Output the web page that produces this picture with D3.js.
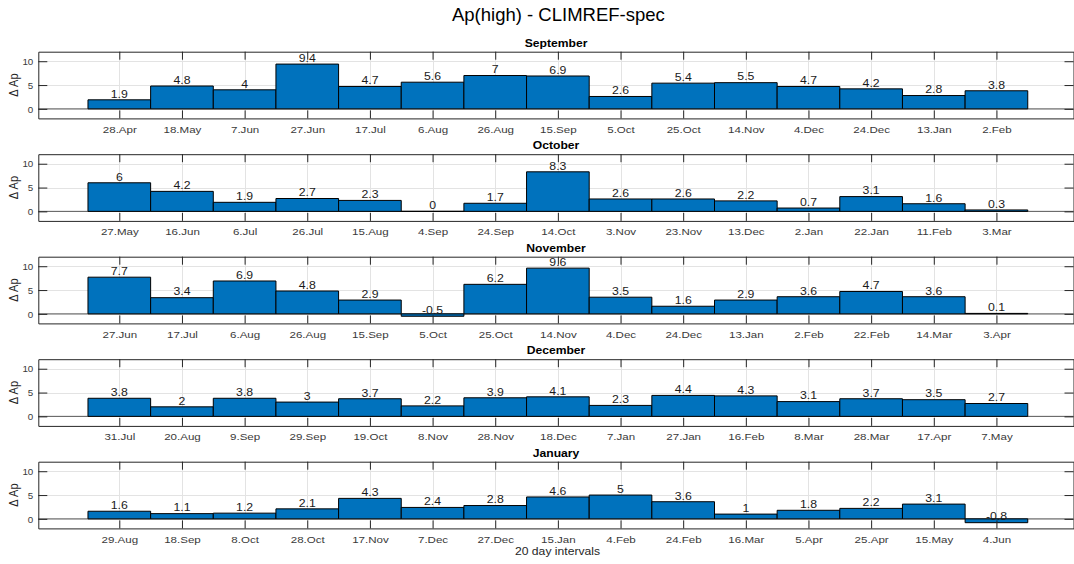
<!DOCTYPE html>
<html>
<head>
<meta charset="utf-8">
<script src="https://cdn.jsdelivr.net/npm/d3@7"></script>
<style>
  html, body { margin: 0; padding: 0; background: #fff; }
  svg { display: block; font-family: "Liberation Sans", Arial, Helvetica, sans-serif; }
</style>
</head>
<body>
<script>
// Monthly panels: label of each 20-day interval and the Ap change in it
const panelTitles = ["September", "October", "November", "December", "January"];

const sepTicks = ["28.Apr","18.May","7.Jun","27.Jun","17.Jul","6.Aug","26.Aug","15.Sep","5.Oct","25.Oct","14.Nov","4.Dec","24.Dec","13.Jan","2.Feb"];
const sepValues = [1.9, 4.8, 4, 9.4, 4.7, 5.6, 7, 6.9, 2.6, 5.4, 5.5, 4.7, 4.2, 2.8, 3.8];

const octTicks = ["27.May","16.Jun","6.Jul","26.Jul","15.Aug","4.Sep","24.Sep","14.Oct","3.Nov","23.Nov","13.Dec","2.Jan","22.Jan","11.Feb","3.Mar"];
const octValues = [6, 4.2, 1.9, 2.7, 2.3, 0, 1.7, 8.3, 2.6, 2.6, 2.2, 0.7, 3.1, 1.6, 0.3];

const novTicks = ["27.Jun","17.Jul","6.Aug","26.Aug","15.Sep","5.Oct","25.Oct","14.Nov","4.Dec","24.Dec","13.Jan","2.Feb","22.Feb","14.Mar","3.Apr"];
const novValues = [7.7, 3.4, 6.9, 4.8, 2.9, -0.5, 6.2, 9.6, 3.5, 1.6, 2.9, 3.6, 4.7, 3.6, 0.1];

const decTicks = ["31.Jul","20.Aug","9.Sep","29.Sep","19.Oct","8.Nov","28.Nov","18.Dec","7.Jan","27.Jan","16.Feb","8.Mar","28.Mar","17.Apr","7.May"];
const decValues = [3.8, 2, 3.8, 3, 3.7, 2.2, 3.9, 4.1, 2.3, 4.4, 4.3, 3.1, 3.7, 3.5, 2.7];

const janTicks = ["29.Aug","18.Sep","8.Oct","28.Oct","17.Nov","7.Dec","27.Dec","15.Jan","4.Feb","24.Feb","16.Mar","5.Apr","25.Apr","15.May","4.Jun"];
const janValues = [1.6, 1.1, 1.2, 2.1, 4.3, 2.4, 2.8, 4.6, 5, 3.6, 1, 1.8, 2.2, 3.1, -0.8];

const yTickValues = [0, 5, 10];

const panels = [
  { title: panelTitles[0], ticks: sepTicks, values: sepValues },
  { title: panelTitles[1], ticks: octTicks, values: octValues },
  { title: panelTitles[2], ticks: novTicks, values: novValues },
  { title: panelTitles[3], ticks: decTicks, values: decValues },
  { title: panelTitles[4], ticks: janTicks, values: janValues }
];

const W = 1074, H = 564;
const axisColor = "#262626";
const gridColor = "#e3e3e3";
const barColor = "#0072BD";
const SX = 1.18;           // horizontal widening of the small labels

const svg = d3.select("body").append("svg")
  .attr("width", W).attr("height", H);

// Shared horizontal scale: interval index 1..15
const x = d3.scaleLinear().domain([-0.293, 16.23]).range([38.3, 1073.5]);
const idx = d3.range(1, 16);

svg.append("text")
  .attr("x", 558.4).attr("y", 20.7)
  .attr("text-anchor", "middle")
  .attr("font-size", 18.5)
  .attr("fill", "#000")
  .text("Ap(high) - CLIMREF-spec");

panels.forEach((p, i) => {
  const top = 51.7 + i * 102.5;
  const bottom = top + 66.7;
  const y = d3.scaleLinear().domain([-2, 12]).range([bottom, top]);
  const g = svg.append("g");
  const data = p.values.map((v, k) => ({ i: idx[k], v, label: p.ticks[k] }));

  // grid lines
  const grid = g.append("g").attr("stroke", gridColor).attr("stroke-width", 1);
  grid.selectAll("line.v").data(idx).join("line")
    .attr("x1", d => Math.round(x(d)) + 0.5).attr("x2", d => Math.round(x(d)) + 0.5)
    .attr("y1", top).attr("y2", bottom);
  grid.selectAll("line.h").data(yTickValues).join("line")
    .attr("x1", x.range()[0]).attr("x2", x.range()[1])
    .attr("y1", d => Math.round(y(d)) + 0.5).attr("y2", d => Math.round(y(d)) + 0.5);

  // baseline
  g.append("line")
    .attr("x1", x.range()[0]).attr("x2", x.range()[1])
    .attr("y1", y(0)).attr("y2", y(0))
    .attr("stroke", "#5a5a5a").attr("stroke-width", 1);

  // bars as closed paths so that a zero-height bar still shows its edge
  g.append("g").selectAll("path").data(data).join("path")
    .attr("d", d => {
      const x0 = x(d.i - 0.5), x1 = x(d.i + 0.5);
      const y0 = y(0), y1 = y(d.v);
      return `M${x0},${y0}H${x1}V${y1}H${x0}Z`;
    })
    .attr("fill", barColor)
    .attr("stroke", "#000")
    .attr("stroke-width", 1);

  // value labels
  g.append("g").selectAll("text").data(data).join("text")
    .attr("transform", d => `translate(${x(d.i)},${y(d.v) - 2.2}) scale(${SX},1)`)
    .attr("text-anchor", "middle")
    .attr("font-size", 10.4)
    .attr("fill", "#1a1a1a")
    .text(d => String(d.v));

  // axes forming the box
  const axB = d3.axisBottom(x).tickValues(idx).tickFormat((d, k) => p.ticks[k])
    .tickSizeInner(-8).tickSizeOuter(0).tickPadding(7.2);
  const axT = d3.axisTop(x).tickValues(idx).tickFormat("").tickSizeInner(-8).tickSizeOuter(0);
  const axL = d3.axisLeft(y).tickValues(yTickValues).tickSizeInner(-9).tickSizeOuter(0).tickPadding(5);
  const axR = d3.axisRight(y).tickValues(yTickValues).tickFormat("").tickSizeInner(-9).tickSizeOuter(0);

  const gB = g.append("g").attr("transform", `translate(0,${bottom})`).call(axB);
  const gT = g.append("g").attr("transform", `translate(0,${top})`).call(axT);
  const gL = g.append("g").attr("transform", `translate(${x.range()[0]},0)`).call(axL);
  const gR = g.append("g").attr("transform", `translate(${x.range()[1]},0)`).call(axR);

  [gB, gT, gL, gR].forEach(a => {
    a.select(".domain").attr("stroke", axisColor);
    a.selectAll(".tick line").attr("stroke", axisColor);
    a.selectAll(".tick text").attr("fill", "#3a3a3a")
      .attr("font-family", "'Liberation Sans', Arial, Helvetica, sans-serif");
  });
  gB.selectAll(".tick text").attr("font-size", 9.8)
    .attr("transform", `scale(${SX},1)`);
  gL.selectAll(".tick text").attr("font-size", 9.8);

  // panel title
  g.append("text")
    .attr("transform", `translate(556,${top - 5}) scale(${SX},1)`)
    .attr("text-anchor", "middle")
    .attr("font-size", 10.3)
    .attr("font-weight", "bold")
    .attr("fill", "#000")
    .text(p.title);

  // y-axis label
  g.append("text")
    .attr("transform", `translate(17.5,${(top + bottom) / 2}) rotate(-90) scale(1,${SX})`)
    .attr("text-anchor", "middle")
    .attr("font-size", 11)
    .attr("fill", "#262626")
    .text("Δ Ap");

  if (i === panels.length - 1) {
    g.append("text")
      .attr("transform", `translate(557.5,${bottom + 26.5}) scale(${SX},1)`)
      .attr("text-anchor", "middle")
      .attr("font-size", 10.3)
      .attr("fill", "#262626")
      .text("20 day intervals");
  }
});
</script>
</body>
</html>
